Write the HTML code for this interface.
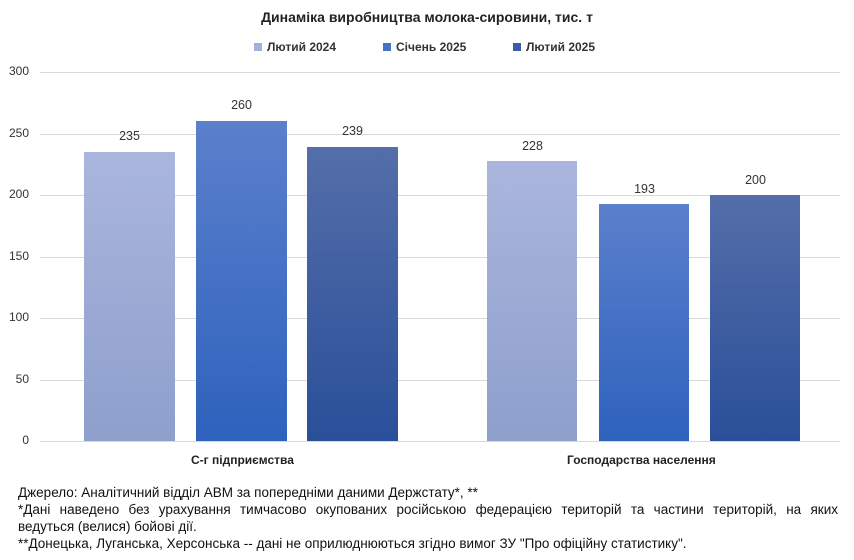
<!DOCTYPE html><html><head><meta charset="utf-8"><style>
body{margin:0;width:854px;height:560px;background:#fff;font-family:"Liberation Sans",sans-serif;overflow:hidden;position:relative}
.t{position:absolute;white-space:nowrap}
.g{position:absolute;left:40px;width:800px;height:1px;background:#d9d9d9}
.yl{position:absolute;left:0;width:29px;text-align:right;font-size:12px;color:#333}
.b{position:absolute;bottom:119px}
.b1{background:linear-gradient(#aab6dd,#8e9fcc)}
.b2{background:linear-gradient(#5b80cc,#2e62bd)}
.b3{background:linear-gradient(#546ea9,#2a4f99)}
.v{position:absolute;font-size:12.5px;color:#333;text-align:center;width:91px}
.lg{position:absolute;top:40px;font-size:12px;font-weight:bold;color:#333}
.lg i{display:inline-block;width:8px;height:8px;margin-right:5px}
.f{position:absolute;left:18px;font-size:13.5px;color:#111;white-space:nowrap}
</style></head><body>
<div class="t" style="left:0;width:854px;text-align:center;top:9px;font-size:14px;font-weight:bold;color:#222">Динаміка виробництва молока-сировини, тис. т</div>
<div class="lg" style="left:254px"><i style="background:#a3b1da"></i>Лютий 2024</div>
<div class="lg" style="left:383px"><i style="background:#4472c4"></i>Січень 2025</div>
<div class="lg" style="left:513px"><i style="background:#3a5ca8"></i>Лютий 2025</div>
<div class="g" style="top:72px"></div><div class="g" style="top:134px"></div><div class="g" style="top:195px"></div><div class="g" style="top:257px"></div><div class="g" style="top:318px"></div><div class="g" style="top:380px"></div><div class="g" style="top:441px"></div>
<div class="yl" style="top:64px">300</div><div class="yl" style="top:126px">250</div><div class="yl" style="top:187px">200</div><div class="yl" style="top:249px">150</div><div class="yl" style="top:310px">100</div><div class="yl" style="top:372px">50</div><div class="yl" style="top:433px">0</div>
<div class="b b1" style="left:84px;width:91px;height:289px"></div>
<div class="b b2" style="left:196px;width:91px;height:320px"></div>
<div class="b b3" style="left:307px;width:91px;height:294px"></div>
<div class="b b1" style="left:487px;width:90px;height:280px"></div>
<div class="b b2" style="left:599px;width:90px;height:237px"></div>
<div class="b b3" style="left:710px;width:90px;height:246px"></div>
<div class="v" style="left:84px;top:129px">235</div>
<div class="v" style="left:196px;top:98px">260</div>
<div class="v" style="left:307px;top:124px">239</div>
<div class="v" style="left:487px;top:139px">228</div>
<div class="v" style="left:599px;top:182px">193</div>
<div class="v" style="left:710px;top:173px">200</div>
<div class="t" style="left:191px;top:453px;font-size:12px;font-weight:bold;color:#222">С-г підприємства</div>
<div class="t" style="left:567px;top:453px;font-size:12px;font-weight:bold;color:#222">Господарства населення</div>
<div class="f" style="top:485px">Джерело: Аналітичний відділ АВМ за попередніми даними Держстату*, **</div>
<div class="f" style="top:502px;width:820px;text-align:justify;text-align-last:justify;white-space:normal">*Дані наведено без урахування тимчасово окупованих російською федерацією територій та частини територій, на яких</div>
<div class="f" style="top:519px">ведуться (велися) бойові дії.</div>
<div class="f" style="top:536px">**Донецька, Луганська, Херсонська -- дані не оприлюднюються згідно вимог ЗУ "Про офіційну статистику".</div>
</body></html>
